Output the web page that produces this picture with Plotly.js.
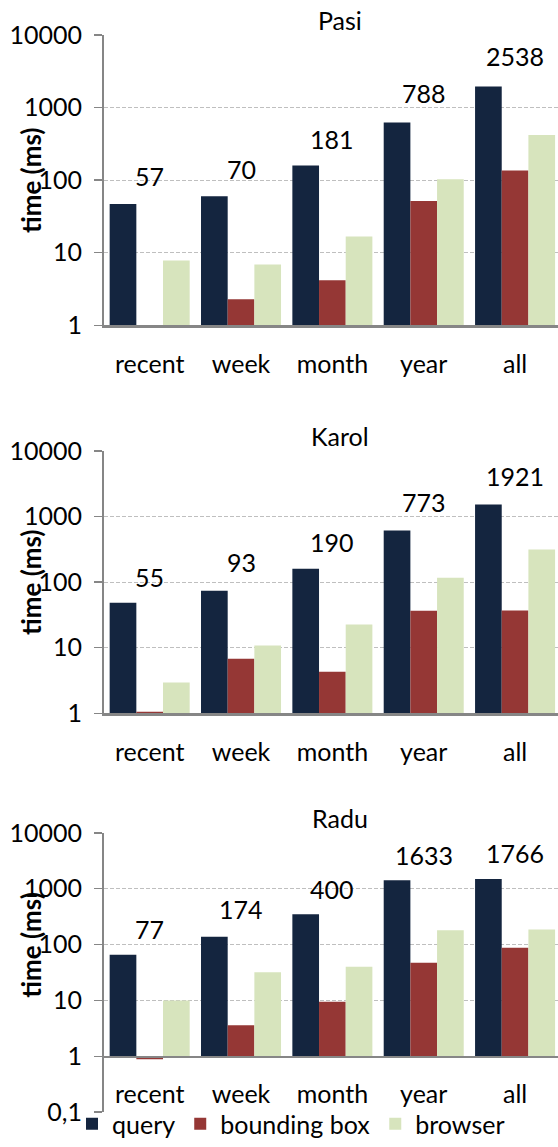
<!DOCTYPE html>
<html>
<head>
<meta charset="utf-8">
<script src="https://cdn.plot.ly/plotly-3.0.1.min.js"></script>
<style>html,body{margin:0;padding:0;background:#fff;}#chart{width:558px;height:1147px;}</style>
</head>
<body>
<div id="chart"></div>
<script>
const categories = ['recent', 'week', 'month', 'year', 'all'];
const seriesNames = ['query', 'bounding box', 'browser'];
const panelTitles = ['Pasi', 'Karol', 'Radu'];

const pasiQuery   = [47, 60, 159, 621, 1946];
const pasiBBox    = [1, 2.3, 4.2, 51.6, 135.5];
const pasiBrowser = [7.8, 6.9, 16.8, 103, 417];
const pasiTotals  = [57, 70, 181, 788, 2538];

const karolQuery   = [48.4, 73.5, 160, 609, 1524];
const karolBBox    = [1.06, 6.8, 4.3, 36.6, 37];
const karolBrowser = [2.94, 10.8, 22.5, 116, 314];
const karolTotals  = [55, 93, 190, 773, 1921];

const raduQuery   = [65.9, 137.7, 348, 1419, 1497];
const raduBBox    = [0.89, 3.6, 9.5, 47.5, 87.7];
const raduBrowser = [10, 32, 40.3, 181, 186];
const raduTotals  = [77, 174, 400, 1633, 1766];

const yTickVals = [0.1, 1, 10, 100, 1000, 10000];
const yTickText = ['0,1', '1', '10', '100', '1000', '10000'];

const colors = ['#14253F', '#953735', '#D7E4BD'];
const FONT = 'Lato, "Open Sans", sans-serif';
const FS = 25;
const W = 558, H = 1147;

const panels = [
  {q: pasiQuery, b: pasiBBox, r: pasiBrowser, t: pasiTotals, top: 35, bot: 327.7, ymin: 1},
  {q: karolQuery, b: karolBBox, r: karolBrowser, t: karolTotals, top: 454, bot: 718.3, ymin: 1},
  {q: raduQuery, b: raduBBox, r: raduBrowser, t: raduTotals, top: 838.7, bot: 1120, ymin: 0.1, axisAt: 1064}
];

const traces = [];
const annotations = [];
const layout = {
  width: W, height: H,
  margin: {l: 0, r: 0, t: 0, b: 0},
  paper_bgcolor: '#fff', plot_bgcolor: 'rgba(0,0,0,0)',
  barmode: 'group', bargap: 0.124, bargroupgap: 0,
  font: {family: FONT, size: FS, color: '#000'},
  showlegend: true,
  legend: {orientation: 'h', x: 72 / W, xanchor: 'left', y: 1 - 1132 / H, yanchor: 'middle',
           font: {family: FONT, size: FS, color: '#000'}, bgcolor: 'rgba(0,0,0,0)', itemclick: false},
  annotations: annotations
};

panels.forEach((p, i) => {
  const n = i + 1;
  const xa = 'x' + (n === 1 ? '' : n), ya = 'y' + (n === 1 ? '' : n);
  const xk = 'xaxis' + (n === 1 ? '' : n), yk = 'yaxis' + (n === 1 ? '' : n);
  [p.q, p.b, p.r].forEach((vals, s) => {
    traces.push({
      type: 'bar', x: categories, y: vals.map(v => v - 1), base: 1,
      name: seriesNames[s], marker: {color: colors[s], line: {width: 0}},
      xaxis: xa, yaxis: ya, legendgroup: seriesNames[s], showlegend: n === 3,
      hoverinfo: 'skip'
    });
  });
  const yDom = [1 - p.bot / H, 1 - p.top / H];
  const vals = yTickVals.filter(v => v >= p.ymin);
  layout[yk] = {
    domain: yDom, type: 'log', range: [Math.log10(p.ymin), 4], anchor: xa,
    tickvals: vals, ticktext: vals.map(v => yTickText[yTickVals.indexOf(v)]),
    ticks: 'outside', ticklen: 8, tickwidth: 1.5, tickcolor: '#868686',
    showline: true, linecolor: '#868686', linewidth: 2,
    showgrid: true, gridcolor: '#BFBFBF', gridwidth: 1, griddash: '4px,2px',
    zeroline: false, tickfont: {family: FONT, size: FS, color: '#000'}, ticklabelstandoff: 7,
    fixedrange: true
  };
  const axisY = p.axisAt !== undefined ? p.axisAt : p.bot;
  layout[xk] = {
    domain: [104 / W, 1], type: 'category', range: [-0.5, 4.47],
    anchor: p.axisAt !== undefined ? 'free' : ya,
    position: 1 - axisY / H,
    showline: true, linecolor: '#868686', linewidth: 2.5,
    ticks: '', showgrid: false, zeroline: false,
    tickfont: {family: FONT, size: FS, color: '#000'}, ticklabelstandoff: 15,
    fixedrange: true
  };
  if (p.axisAt === undefined) delete layout[xk].position;
  // panel title
  annotations.push({text: panelTitles[i], xref: 'paper', yref: 'paper', x: 340 / W, y: 1 - (p.top - 15) / H,
    xanchor: 'center', yanchor: 'middle', showarrow: false, font: {family: FONT, size: FS, color: '#000'}});
  // y axis title
  annotations.push({text: '<b>time (ms)</b>', xref: 'paper', yref: 'paper', x: 31 / W, y: 1 - ((p.top + (p.axisAt || p.bot)) / 2) / H,
    xanchor: 'center', yanchor: 'middle', textangle: -90, showarrow: false, font: {family: FONT, size: 26, color: '#000'}});
  // totals
  p.t.forEach((tot, k) => {
    annotations.push({text: String(tot), xref: xa, yref: ya, x: categories[k], y: Math.log10(tot),
      yshift: 22, xanchor: 'center', yanchor: 'middle', showarrow: false,
      font: {family: FONT, size: FS, color: '#000'}});
  });
});

Plotly.newPlot('chart', traces, layout, {displayModeBar: false, staticPlot: true});
</script>
</body>
</html>
